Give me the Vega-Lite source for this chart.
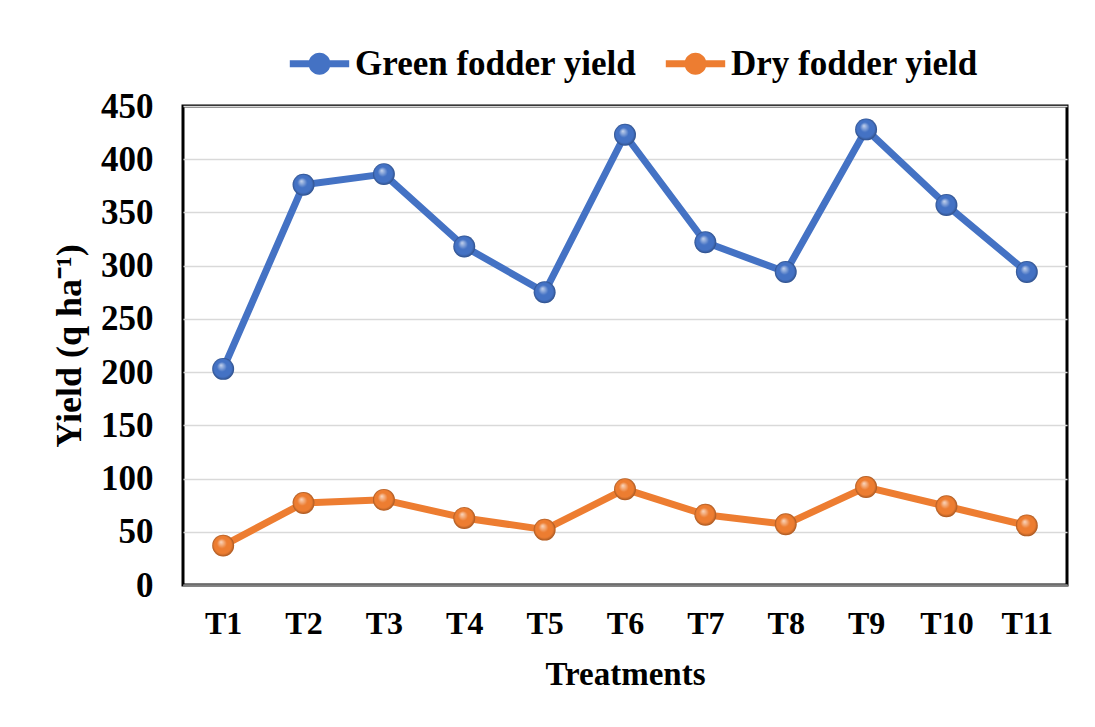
{
  "$schema": "https://vega.github.io/schema/vega-lite/v6.json",
  "width": 884,
  "height": 479,
  "autosize": {"type": "none"},
  "padding": {"left": 183, "top": 106, "right": 28, "bottom": 142},
  "background": "white",
  "config": {
    "view": {"stroke": "black", "strokeWidth": 3},
    "font": "Liberation Serif"
  },
  "data": {
    "values": [
      {"treatment": "T1", "series": "Green fodder yield", "yield": 203},
      {"treatment": "T2", "series": "Green fodder yield", "yield": 376},
      {"treatment": "T3", "series": "Green fodder yield", "yield": 386},
      {"treatment": "T4", "series": "Green fodder yield", "yield": 318},
      {"treatment": "T5", "series": "Green fodder yield", "yield": 275},
      {"treatment": "T6", "series": "Green fodder yield", "yield": 423},
      {"treatment": "T7", "series": "Green fodder yield", "yield": 322},
      {"treatment": "T8", "series": "Green fodder yield", "yield": 294},
      {"treatment": "T9", "series": "Green fodder yield", "yield": 428},
      {"treatment": "T10", "series": "Green fodder yield", "yield": 357},
      {"treatment": "T11", "series": "Green fodder yield", "yield": 294},
      {"treatment": "T1", "series": "Dry fodder yield", "yield": 37},
      {"treatment": "T2", "series": "Dry fodder yield", "yield": 77},
      {"treatment": "T3", "series": "Dry fodder yield", "yield": 80},
      {"treatment": "T4", "series": "Dry fodder yield", "yield": 63},
      {"treatment": "T5", "series": "Dry fodder yield", "yield": 52},
      {"treatment": "T6", "series": "Dry fodder yield", "yield": 90},
      {"treatment": "T7", "series": "Dry fodder yield", "yield": 66},
      {"treatment": "T8", "series": "Dry fodder yield", "yield": 57},
      {"treatment": "T9", "series": "Dry fodder yield", "yield": 92},
      {"treatment": "T10", "series": "Dry fodder yield", "yield": 74},
      {"treatment": "T11", "series": "Dry fodder yield", "yield": 56}
    ]
  },
  "encoding": {
    "x": {
      "field": "treatment",
      "type": "ordinal",
      "sort": ["T1", "T2", "T3", "T4", "T5", "T6", "T7", "T8", "T9", "T10", "T11"],
      "scale": {"type": "point", "padding": 0.5},
      "axis": {
        "title": "Treatments",
        "labelAngle": 0,
        "labelFont": "Liberation Serif",
        "labelFontWeight": "bold",
        "labelFontSize": 32,
        "labelColor": "black",
        "labelPadding": 23,
        "ticks": false,
        "domainColor": "#7f7f7f",
        "domainWidth": 2.5,
        "grid": false,
        "titleFont": "Liberation Serif",
        "titleFontWeight": "bold",
        "titleFontSize": 33,
        "titleColor": "black",
        "titlePadding": 19
      }
    },
    "y": {
      "field": "yield",
      "type": "quantitative",
      "scale": {"domain": [0, 450], "nice": false},
      "axis": {
        "title": "Yield (q ha⁻¹)",
        "values": [0, 50, 100, 150, 200, 250, 300, 350, 400, 450],
        "labelFont": "Liberation Serif",
        "labelFontWeight": "bold",
        "labelFontSize": 35,
        "labelColor": "black",
        "labelPadding": 30,
        "ticks": false,
        "domain": false,
        "grid": true,
        "gridColor": "#d9d9d9",
        "gridWidth": 1.5,
        "titleFont": "Liberation Serif",
        "titleFontWeight": "bold",
        "titleFontSize": 36,
        "titleColor": "black",
        "titlePadding": 12
      }
    },
    "color": {
      "field": "series",
      "type": "nominal",
      "scale": {"domain": ["Green fodder yield", "Dry fodder yield"], "range": ["#4472C4", "#ED7D31"]},
      "legend": {
        "title": null,
        "orient": "none",
        "legendX": 100,
        "legendY": -60,
        "direction": "horizontal",
        "padding": 0,
        "labelFont": "Liberation Serif",
        "labelFontWeight": "bold",
        "labelFontSize": 35,
        "labelColor": "black",
        "labelLimit": 400,
        "symbolType": "M-2.7,-0.32L2.7,-0.32L2.7,0.32L-2.7,0.32Z M1,0A1,1,0,1,1,-1,0A1,1,0,1,1,1,0Z",
        "symbolSize": 484,
        "symbolStrokeWidth": 0,
        "symbolOpacity": 1,
        "symbolOffset": 19,
        "labelOffset": 18,
        "columnPadding": 22,
        "encode": {
          "symbols": {
            "update": {
              "fill": {"scale": "color", "field": "value"},
              "stroke": {"value": "transparent"},
              "opacity": {"value": 1}
            }
          }
        }
      }
    }
  },
  "layer": [
    {
      "mark": {"type": "line", "strokeWidth": 7, "strokeJoin": "round", "strokeCap": "round"}
    },
    {
      "mark": {"type": "point", "filled": true, "size": 480, "opacity": 1}
    },
    {
      "mark": {
        "type": "point",
        "filled": true,
        "size": 480,
        "fill": {
          "gradient": "radial",
          "x1": 0.4, "y1": 0.33, "r1": 0,
          "x2": 0.5, "y2": 0.5, "r2": 0.5,
          "stops": [
            {"offset": 0, "color": "rgba(255,255,255,0.7)"},
            {"offset": 0.45, "color": "rgba(255,255,255,0)"},
            {"offset": 0.8, "color": "rgba(0,0,0,0)"},
            {"offset": 1, "color": "rgba(0,0,0,0.3)"}
          ]
        },
        "opacity": 1
      },
      "encoding": {"color": {"value": null}}
    }
  ]
}
